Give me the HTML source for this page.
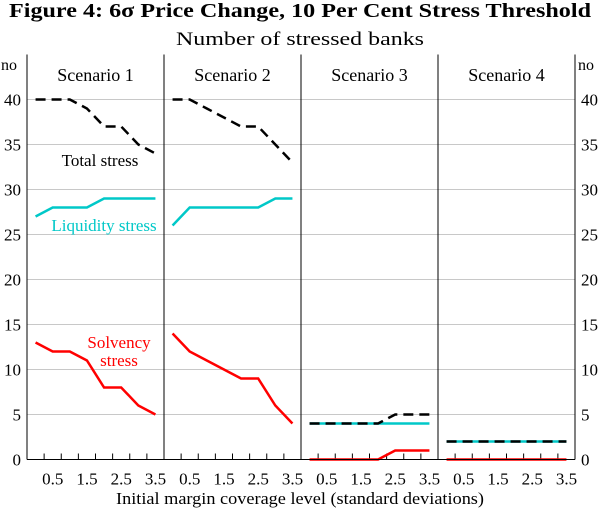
<!DOCTYPE html>
<html><head><meta charset="utf-8"><style>
body{margin:0;background:#fff}
svg{display:block;font-family:"Liberation Serif",serif}
</style></head><body>
<svg id="c" width="600" height="512">
<text x="300" y="17" text-anchor="middle" font-size="20" font-weight="bold" textLength="582" lengthAdjust="spacingAndGlyphs">Figure 4: 6σ Price Change, 10 Per Cent Stress Threshold</text>
<text x="300" y="45" text-anchor="middle" font-size="19" textLength="248" lengthAdjust="spacingAndGlyphs">Number of stressed banks</text>
<text x="300" y="504" text-anchor="middle" font-size="17" textLength="368" lengthAdjust="spacingAndGlyphs">Initial margin coverage level (standard deviations)</text>
<text x="1" y="70" font-size="16">no</text>
<text x="578" y="70" font-size="16">no</text>
</svg>
<script>
const categories=["0","0.5","1","1.5","2","2.5","3","3.5"];
const xTickLabels=["0.5","1.5","2.5","3.5"];
const yTicks=[0,5,10,15,20,25,30,35,40];
const panels=["Scenario 1","Scenario 2","Scenario 3","Scenario 4"];
const totalStress=[[40,40,40,39,37,37,35,34],[40,40,39,38,37,37,35,33],[4,4,4,4,4,5,5,5],[2,2,2,2,2,2,2,2]];
const liquidityStress=[[27,28,28,28,29,29,29,29],[26,28,28,28,28,28,29,29],[4,4,4,4,4,4,4,4],[2,2,2,2,2,2,2,2]];
const solvencyStress=[[13,12,12,11,8,8,6,5],[14,12,11,10,9,9,6,4],[0,0,0,0,0,1,1,1],[0,0,0,0,0,0,0,0]];
const svg=document.getElementById('c');const NS='http://www.w3.org/2000/svg';
const L=27,R=575,T=54.5,B=459.5,PW=(R-L)/4,yMax=45;
const y=v=>B-(B-T)*v/yMax;
const cw=PW/categories.length;
const x=(p,i)=>L+p*PW+cw*(i+0.5);
function mk(t,a,txt){const e=document.createElementNS(NS,t);for(const k in a)e.setAttribute(k,a[k]);if(txt!==undefined)e.textContent=txt;svg.appendChild(e);return e;}
yTicks.forEach(v=>{
 if(v>0){const g=mk('line',{x1:L,x2:R,y1:y(v),y2:y(v),stroke:'#c8c8c8','stroke-width':1});
 
 }
 const a=mk('text',{x:21,y:y(v)+6,'text-anchor':'end','font-size':17},v);
 
 
 const b=mk('text',{x:581,y:y(v)+6,'font-size':17},v);
 
 
});
panels.forEach((name,p)=>{
 const t=mk('text',{x:L+p*PW+PW/2,y:81,'text-anchor':'middle','font-size':18},name);
 
 
 for(let i=1;i<categories.length;i++){const tk=mk('line',{x1:L+p*PW+cw*i,x2:L+p*PW+cw*i,y1:B,y2:B-6,stroke:'#000'});
 
 }
 xTickLabels.forEach(lb=>{const i=categories.indexOf(lb);const e=mk('text',{x:x(p,i),y:B+25,'text-anchor':'middle','font-size':17},lb);
 
 });
 const pts=a=>a.map((v,i)=>x(p,i)+','+y(v)).join(' ');
 const s=mk('polyline',{points:pts(solvencyStress[p]),fill:'none',stroke:'#ff0000','stroke-width':2.5});
 
 
 const l=mk('polyline',{points:pts(liquidityStress[p]),fill:'none',stroke:'#00c8c8','stroke-width':2.5});
 
 
 const d=mk('polyline',{points:pts(totalStress[p]),fill:'none',stroke:'#000','stroke-width':2.5,'stroke-dasharray':'10,6'});
 
 
});
[0,1,2,3,4].forEach(k=>{const e=mk('line',{x1:L+k*PW,x2:L+k*PW,y1:T,y2:B,stroke:'#000'});
 
 });
const ax=mk('line',{x1:L,x2:R,y1:B,y2:B,stroke:'#000'});


const t1=mk('text',{x:100,y:166,'text-anchor':'middle','font-size':17},'Total stress');


const t2=mk('text',{x:104,y:231,'text-anchor':'middle','font-size':17,fill:'#00c8c8'},'Liquidity stress');


const t3=mk('text',{x:119,y:348,'text-anchor':'middle','font-size':17,fill:'#ff0000'},'Solvency');


const t4=mk('text',{x:119,y:366,'text-anchor':'middle','font-size':17,fill:'#ff0000'},'stress');


</script>
</body></html>
